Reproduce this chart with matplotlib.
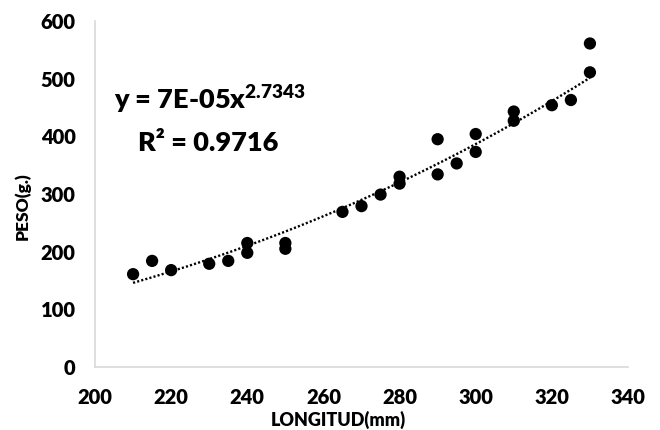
import numpy as np
import matplotlib
matplotlib.use("Agg")
import matplotlib.pyplot as plt

# Data
longitud = [210, 215, 220, 230, 235, 240, 240, 250, 250, 265, 270, 275, 280, 280,
            290, 290, 295, 300, 300, 310, 310, 320, 325, 330, 330]
peso = [161, 184, 168, 179, 184, 215, 198, 215, 205, 269, 279, 299, 330, 318,
        334, 395, 353, 404, 373, 443, 427, 454, 463, 561, 511]
x_ticks = [200, 220, 240, 260, 280, 300, 320, 340]
y_ticks = [0, 100, 200, 300, 400, 500, 600]
eq_text = "y = 7E-05x$^{2.7343}$"
r2_text = "R² = 0.9716"
x_label = "LONGITUD(mm)"
y_label = "PESO(g.)"

WEIGHT = 'heavy'
plt.rcParams['font.family'] = ['Lato', 'DejaVu Sans']
plt.rcParams['font.weight'] = WEIGHT
plt.rcParams['mathtext.fontset'] = 'custom'
plt.rcParams['mathtext.rm'] = 'Lato:' + WEIGHT
plt.rcParams['mathtext.it'] = 'Lato:' + WEIGHT
plt.rcParams['mathtext.bf'] = 'Lato:' + WEIGHT

W, H = 660, 430
fig = plt.figure(figsize=(W / 100, H / 100), dpi=100)
x0, x1 = 95, 628
y0, y1 = 367, 21
ax = fig.add_axes([x0 / W, 1 - y0 / H, (x1 - x0) / W, (y0 - y1) / H])

xa = np.array(longitud, dtype=float)
ya = np.array(peso, dtype=float)

# power trendline fitted from the data (log-log regression, like Excel)
b, ln_a = np.polyfit(np.log(xa), np.log(ya), 1)
xf = np.linspace(xa.min(), xa.max(), 200)
yf = np.exp(ln_a) * xf ** b
ax.plot(xf, yf, color='black', lw=1.7, linestyle=(0, (0.9, 0.9)), zorder=2)

ax.scatter(xa, ya, s=78, color='black', edgecolors='none', zorder=3)

ax.set_xlim(200, 340)
ax.set_ylim(0, 600)
ax.set_xticks(x_ticks)
ax.set_yticks(y_ticks)
ax.tick_params(length=0, labelsize=14.5)
ax.tick_params(axis='x', pad=15)
ax.tick_params(axis='y', pad=14)
for lab in ax.get_xticklabels() + ax.get_yticklabels():
    lab.set_fontweight(WEIGHT)

for s in ['top', 'right']:
    ax.spines[s].set_visible(False)
for s in ['left', 'bottom']:
    ax.spines[s].set_color('#d9d9d9')
    ax.spines[s].set_linewidth(1.2)

fig.text(338 / W, 1 - 426 / H, x_label, ha='center', va='baseline',
         fontsize=13, fontweight=WEIGHT)
fig.text(22 / W, 1 - 206 / H, y_label, ha='center', va='center',
         rotation=90, fontsize=12.5, fontweight=WEIGHT)

fig.text(114 / W, 1 - 109 / H, eq_text, ha='left', va='baseline',
         fontsize=19.5, fontweight=WEIGHT)
fig.text(138 / W, 1 - 151 / H, r2_text, ha='left', va='baseline',
         fontsize=19.5, fontweight=WEIGHT)

fig.savefig("out.png", dpi=100)
